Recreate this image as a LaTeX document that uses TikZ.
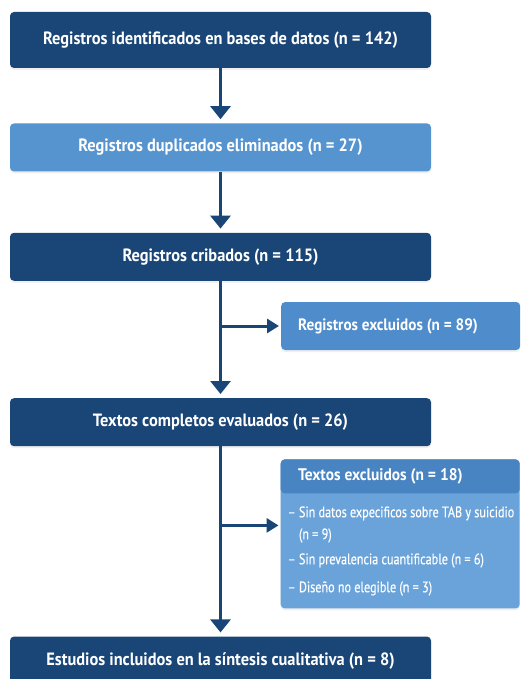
\documentclass[tikz,border=0pt]{standalone}
\usepackage{fontspec}
\setmainfont[FakeStretch=0.92]{PT Sans}
\newfontfamily\listfont[FakeStretch=0.8,FakeBold=0.4]{PT Sans}
\usetikzlibrary{positioning,arrows.meta,shadows}

\definecolor{prismadark}{RGB}{26,70,119}
\definecolor{prismalight}{RGB}{86,148,208}
\definecolor{prismaexc}{RGB}{78,140,203}
\definecolor{prismahead}{RGB}{72,132,194}
\definecolor{prismabody}{RGB}{106,163,218}

\begin{document}
\begin{tikzpicture}[
                            x=1pt, y=1pt,
                            >={Triangle[width=20pt,length=13pt]},
                            flow/.style={draw=prismadark, line width=3pt, shorten >=4pt},
                            side/.style={flow, >={Triangle[width=14pt,length=12pt]}, shorten >=2pt},
                            boxbase/.style={rectangle, rounded corners=4pt, text=white,
                                drop shadow={opacity=0.12, shadow xshift=0pt, shadow yshift=-2pt}},
                            mainbox/.style={boxbase, fill=prismadark, minimum width=421pt, minimum height=48pt,
                                font=\bfseries\fontsize{17.8}{20}\selectfont},
                            dupbox/.style={mainbox, fill=prismalight},
                            excbox/.style={boxbase, fill=prismaexc, minimum height=48pt, text width=205pt,
                                inner xsep=17pt, align=flush left, font=\bfseries\fontsize{16.5}{19}\selectfont},
                            listbox/.style={boxbase, fill=prismabody, minimum width=239pt, minimum height=149pt,
                                path picture={\fill[prismahead] (path picture bounding box.north west)
                                    rectangle ([yshift=-34pt]path picture bounding box.north east);}}
                        ]
                        \useasboundingbox (0,0) rectangle (520,-679);

                        % Blocks
                        \node [mainbox, minimum height=56pt] (ident) at (220.5,-40) {Registros identificados en bases de datos (n = 142)};
                        \node [dupbox, below=55pt of ident] (dupl) {Registros duplicados eliminados (n = 27)};
                        \node [mainbox, below=61pt of dupl] (crib) {Registros cribados (n = 115)};
                        \node [mainbox, below=117pt of crib] (compl) {Textos completos evaluados (n = 26)};
                        \node [mainbox, below=190pt of compl] (incl) {Estudios incluidos en la síntesis cualitativa (n = 8)};

                        \coordinate [below=45pt of crib.south] (split1);
                        \coordinate [below=79pt of compl.south] (split2);

                        \node [excbox, right=60.5pt of split1] (excreg) {Registros excluidos (n = 89)};
                        \node [listbox, right=60pt of split2, yshift=-8.5pt] (exctext) {};
                        \node [anchor=west, text=white, font=\bfseries\fontsize{16.8}{19}\selectfont]
                            (exchead) at ([xshift=14pt,yshift=-17pt]exctext.north west) {Textos excluidos (n = 18)};
                        \node [anchor=north west, inner sep=0pt, text=white, align=left,
                            font=\listfont\fontsize{15.2}{22}\selectfont]
                            (exclist) at ([xshift=7pt,yshift=-47pt]exctext.north west)
                            {– Sin datos expecificos sobre TAB y suicidio\\
                             \hphantom{– }(n = 9)\\[3pt]
                             – Sin prevalencia cuantificable (n = 6)\\[6pt]
                             – Diseño no elegible (n = 3)};

                        % Connections
                        \draw [->, flow] (ident) -- (dupl);
                        \draw [->, flow] (dupl) -- (crib);
                        \draw [->, flow] (crib) -- (compl);
                        \draw [->, flow] (compl) -- (incl);
                        \draw [->, side] (split1) -- (excreg);
                        \draw [->, side] (split2) -- (split2 -| exctext.west);
                    \end{tikzpicture}
\end{document}
